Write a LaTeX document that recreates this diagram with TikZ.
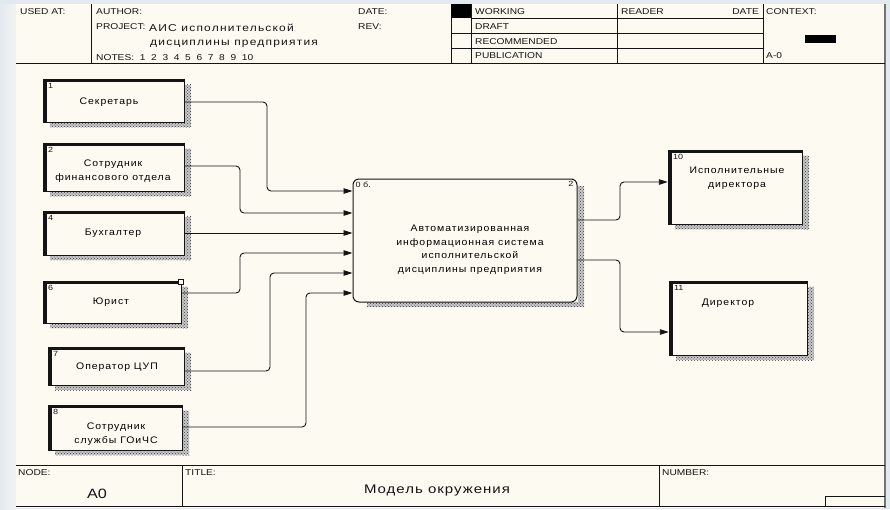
\documentclass[tikz,border=0pt]{standalone}
\usepackage{fontspec}
\setmainfont{Liberation Sans}[FakeStretch=1.2]
\newfontfamily\cyr{Liberation Sans}[FakeStretch=1.2,LetterSpace=12]
\newfontfamily\cyrb{Liberation Sans}[FakeStretch=1.1,LetterSpace=10]
\newfontfamily\cyrt{Liberation Sans}[FakeStretch=1.2,LetterSpace=8]
\usetikzlibrary{arrows.meta,patterns}
\definecolor{paper}{RGB}{253,250,241}
\definecolor{bgblue}{RGB}{226,233,241}
\definecolor{ink}{RGB}{20,20,20}
\tikzset{
  hdr/.style={font=\fontsize{8.5}{10}\selectfont, anchor=west, inner sep=0, text=ink},
  hcyr/.style={font=\cyr\fontsize{10}{12}\selectfont, anchor=west, inner sep=0, text=ink},
  ent/.style={fill=paper, inner sep=0},
  bx/.style={font=\cyrb\fontsize{9.5}{13.5}\selectfont, align=center, inner sep=0, text=black},
  num/.style={font=\fontsize{7.5}{9}\selectfont, anchor=north west, inner sep=0, text=ink},
  conn/.style={line width=0.9, draw=ink, rounded corners=4, -{Triangle[length=9pt,width=5.5pt]}},
  frame/.style={line width=0.9, draw=ink},
  shd/.style={preaction={fill=black!22}, pattern=crosshatch dots, pattern color=black!75}
}
\begin{document}
\begin{tikzpicture}[x=1pt,y=-1pt]
\useasboundingbox (0,0) rectangle (890,509);
\fill[bgblue] (0,0) rectangle (890,509);
\shade[left color=bgblue, right color=paper!60!bgblue] (0,4) rectangle (16,509);
\fill[paper] (16,4) rectangle (885,508);
\draw[black!55, line width=2] (885,4) -- (885,508);

% header frame
\draw[frame] (16,63) -- (885,63);
\draw[frame] (91,4) -- (91,63);
\draw[frame] (451,4) -- (451,63);
\draw[frame] (471,4) -- (471,63);
\draw[frame] (617,4) -- (617,63);
\draw[frame] (763,4) -- (763,63);
\draw[frame] (471,18) -- (763,18);
\draw[frame] (451,33) -- (763,33);
\draw[frame] (451,48) -- (763,48);
\fill[black] (451,4) rectangle (471,18);
\fill[black] (805,35) rectangle (836,43);

% header text
\node[hdr] (usedat) at (20,12) {USED AT:};
\node[hdr] (author) at (96,12) {AUTHOR:};
\node[hdr] (project) at (96,27) {PROJECT:};
\node[hcyr] (proj1) at (149,28) {АИС исполнительской};
\node[hcyr] (proj2) at (150,44) {дисциплины предприятия};
\node[hdr] (notes) at (96,58) {NOTES:\ \ 1\ \ 2\ \ 3\ \ 4\ \ 5\ \ 6\ \ 7\ \ 8\ \ 9\ \ 10};
\node[hdr] (date) at (358,12) {DATE:};
\node[hdr] (rev) at (358,27) {REV:};
\node[hdr] (working) at (475,12) {WORKING};
\node[hdr] (draft) at (475,27) {DRAFT};
\node[hdr] (recom) at (475,42) {RECOMMENDED};
\node[hdr] (publ) at (475,56) {PUBLICATION};
\node[hdr] (reader) at (621,12) {READER};
\node[hdr, anchor=east] (rdate) at (759,12) {DATE};
\node[hdr] (context) at (766,12) {CONTEXT:};
\node[hdr] (a0ctx) at (766,56) {A-0};

% footer frame
\draw[frame] (16,465) -- (885,465);
\draw[frame] (16,506) -- (885,506);
\draw[frame] (182,465) -- (182,506);
\draw[frame] (659,465) -- (659,506);
\draw[frame] (825,506) -- (825,496) -- (885,496);
\node[hdr] (nodel) at (18,473) {NODE:};
\node[hdr] (titlel) at (185,473) {TITLE:};
\node[hdr] (numberl) at (662,473) {NUMBER:};
\node[inner sep=0, font=\fontsize{13.5}{15}\selectfont, text=ink] (a0) at (97,494) {A0};
\node[inner sep=0, font=\cyrt\fontsize{12.5}{14}\selectfont, text=ink] (title) at (437,490) {Модель окружения};

% entity boxes
\node[ent, minimum width=141, minimum height=43] (b1) at (113.5,100.5) {};
\node[ent, minimum width=141, minimum height=48] (b2) at (113.5,167) {};
\node[ent, minimum width=141, minimum height=44] (b4) at (113.5,233) {};
\node[ent, minimum width=138, minimum height=42] (b6) at (112,302) {};
\node[ent, minimum width=136, minimum height=38] (b7) at (116,366) {};
\node[ent, minimum width=134, minimum height=45] (b8) at (115,427.5) {};
\node[ent, minimum width=134, minimum height=74] (b10) at (735,187) {};
\node[ent, minimum width=138, minimum height=74] (b11) at (738,318) {};

\foreach \n in {b1,b2,b4,b6,b7,b8,b10,b11} {
  \fill[shd] ([shift={(1,6)}]\n.north east) rectangle ([shift={(7,5)}]\n.south east);
  \fill[shd] ([shift={(7,1)}]\n.south west) rectangle ([shift={(7,5)}]\n.south east);
  \fill[ink] (\n.north west) rectangle ([shift={(4,0)}]\n.south west);
  \fill[ink] (\n.north west) rectangle ([shift={(0,3)}]\n.north east);
  \draw[ink, line width=1.4] (\n.north east) -- (\n.south east) -- (\n.south west);
}
% selection handle on box 6
\draw[ink, fill=paper, line width=0.8] (178.5,279) rectangle (183,284);

% numbers
\node[num] (n1) at ([shift={(5,4)}]b1.north west) {1};
\node[num] (n2) at ([shift={(5,4)}]b2.north west) {2};
\node[num] (n4) at ([shift={(5,4)}]b4.north west) {4};
\node[num] (n6) at ([shift={(5,4)}]b6.north west) {6};
\node[num] (n7) at ([shift={(5,4)}]b7.north west) {7};
\node[num] (n8) at ([shift={(5,4)}]b8.north west) {8};
\node[num] (n10) at ([shift={(5,4)}]b10.north west) {10};
\node[num] (n11) at ([shift={(5,4)}]b11.north west) {11};

% box texts
\node[bx] (t1) at (109,102) {Секретарь};
\node[bx] (t2) at (113,171) {Сотрудник\\финансового отдела};
\node[bx] (t4) at (113,233) {Бухгалтер};
\node[bx] (t6) at (111,302) {Юрист};
\node[bx] (t7) at (117,367) {Оператор ЦУП};
\node[bx] (t8) at (116,434) {Сотрудник\\службы ГОиЧС};
\node[bx] (t10) at (737,178) {Исполнительные\\директора};
\node[bx] (t11) at (728,303) {Директор};

% central activity
\fill[shd] (367,186) -- (584,186) -- (584,307) -- (367,307) -- (367,302) -- (578,302) -- (578,186) -- cycle;
\node[draw=ink, fill=paper, line width=1, rounded corners=6, minimum width=224, minimum height=123, inner sep=0] (c) at (465,240.5) {};
\node[num] (c0) at ([shift={(3,3)}]c.north west) {0 б.};
\node[num, anchor=north east] (c2) at ([shift={(-4,3)}]c.north east) {2};
\node[bx] (tc) at (470,249.5) {Автоматизированная\\информационная система\\исполнительской\\дисциплины предприятия};

% connectors
\draw[conn] (b1.east |- 0,102) -| (267,191) -- (c.west |- 0,191);
\draw[conn] (b2.east |- 0,166) -| (240,213) -- (c.west |- 0,213);
\draw[conn] (b4.east |- 0,233) -- (c.west |- 0,233);
\draw[conn] (b6.east |- 0,293) -| (240,253) -- (c.west |- 0,253);
\draw[conn] (b7.east |- 0,371) -| (270,273) -- (c.west |- 0,273);
\draw[conn] (b8.east |- 0,427) -| (306,293) -- (c.west |- 0,293);
\draw[conn] (c.east |- 0,220) -| (620,182) -- (b10.west |- 0,182);
\draw[conn] (c.east |- 0,260) -| (620,332) -- (b11.west |- 0,332);
\end{tikzpicture}
\end{document}
